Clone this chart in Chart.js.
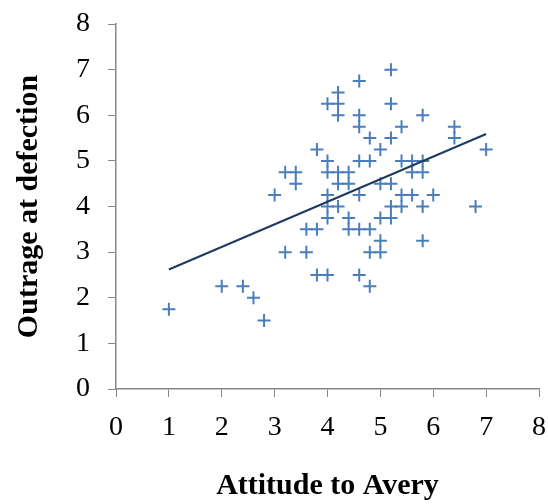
<!DOCTYPE html>
<html>
<head>
<meta charset="utf-8">
<script src="https://cdn.jsdelivr.net/npm/chart.js@4.4.1/dist/chart.umd.min.js"></script>
<style>
  html, body { margin: 0; padding: 0; background: #fff; }
  #wrap { width: 548px; height: 504px; }
</style>
</head>
<body>
<div id="wrap"><canvas id="scatterChart"></canvas></div>
<script>
// attitude to Avery (x) and outrage at defection (y), one entry per respondent
const attitude = [
  1.0, 2.0, 2.4, 2.6, 2.8, 3.0, 3.2, 3.2, 3.4, 3.4,
  3.6, 3.6, 3.8, 3.8, 3.8, 4.0, 4.0, 4.0, 4.0, 4.0,
  4.0, 4.0, 4.2, 4.2, 4.2, 4.2, 4.2, 4.2, 4.4, 4.4,
  4.4, 4.4, 4.6, 4.6, 4.6, 4.6, 4.6, 4.6, 4.6, 4.8,
  4.8, 4.8, 4.8, 4.8, 5.0, 5.0, 5.0, 5.0, 5.0, 5.2,
  5.2, 5.2, 5.2, 5.2, 5.2, 5.4, 5.4, 5.4, 5.4, 5.6,
  5.6, 5.6, 5.8, 5.8, 5.8, 5.8, 5.8, 6.0, 6.4, 6.4,
  6.8, 7.0
];
const outrage = [
  1.75, 2.25, 2.25, 2.0, 1.5, 4.25, 3.0, 4.75, 4.75, 4.5,
  3.5, 3.0, 5.25, 3.5, 2.5, 6.25, 5.0, 4.75, 4.25, 4.0,
  3.75, 2.5, 6.5, 6.25, 6.0, 4.75, 4.5, 4.0, 4.75, 4.5,
  3.75, 3.5, 6.75, 6.0, 5.75, 5.0, 4.25, 3.5, 2.5, 5.5,
  5.0, 3.5, 3.0, 2.25, 5.25, 4.5, 3.75, 3.25, 3.0, 7.0,
  6.25, 5.5, 4.5, 4.0, 3.75, 5.75, 5.0, 4.25, 4.0, 5.0,
  4.75, 4.25, 6.0, 5.0, 4.75, 4.0, 3.25, 4.25, 5.75, 5.5,
  4.0, 5.25
];

// linear trend line end points
const trendX = [1, 7];
const trendY = [2.62, 5.59];

const xTicks = [0, 1, 2, 3, 4, 5, 6, 7, 8];
const yTicks = [0, 1, 2, 3, 4, 5, 6, 7, 8];

const axisGray = "#868686";
const serif = "'Liberation Serif', 'Times New Roman', serif";

// drop the extra room Chart.js reserves for overhanging tick labels
function clearScalePadding(axis) {
  axis.paddingTop = 0;
  axis.paddingBottom = 0;
  axis.paddingLeft = 0;
  axis.paddingRight = 0;
}

const ctx = document.getElementById("scatterChart").getContext("2d");

new Chart(ctx, {
  type: "scatter",
  data: {
    datasets: [
      {
        label: "Outrage",
        data: attitude.map((x, i) => ({ x: x, y: outrage[i] })),
        pointStyle: "cross",
        pointRadius: 6.5,
        pointBorderWidth: 2,
        borderColor: "#4a7ebb",
        backgroundColor: "#4a7ebb",
        order: 2,
      },
      {
        label: "Linear trend",
        data: trendX.map((x, i) => ({ x: x, y: trendY[i] })),
        showLine: true,
        borderColor: "#1f3a60",
        borderWidth: 2,
        pointRadius: 0,
        order: 1,
      },
    ],
  },
  options: {
    responsive: true,
    maintainAspectRatio: false,
    animation: false,
    layout: { padding: { left: 0, right: 9, top: 24, bottom: 0 } },
    plugins: { legend: { display: false }, tooltip: { enabled: false } },
    scales: {
      x: {
        type: "linear",
        min: xTicks[0],
        max: xTicks[xTicks.length - 1],
        afterBuildTicks: (axis) => {
          axis.ticks = xTicks.map((v) => ({ value: v }));
        },
        afterFit: (axis) => {
          axis.height = 115;
          clearScalePadding(axis);
        },
        grid: {
          display: true,
          drawOnChartArea: false,
          drawTicks: true,
          tickLength: 8,
          color: axisGray,
        },
        border: { display: true, color: axisGray, width: 1.5 },
        ticks: {
          padding: 14,
          color: "#000",
          font: { family: serif, size: 28 },
        },
        title: {
          display: true,
          text: "Attitude to Avery",
          color: "#000",
          padding: { top: 0, bottom: 0 },
          font: { family: serif, size: 30, weight: "bold" },
        },
      },
      y: {
        type: "linear",
        min: yTicks[0],
        max: yTicks[yTicks.length - 1],
        afterBuildTicks: (axis) => {
          axis.ticks = yTicks.map((v) => ({ value: v }));
        },
        afterFit: (axis) => {
          axis.width = 116;
          clearScalePadding(axis);
        },
        grid: {
          display: true,
          drawOnChartArea: false,
          drawTicks: true,
          tickLength: 8,
          color: axisGray,
        },
        border: { display: true, color: axisGray, width: 1.5 },
        ticks: {
          padding: 18,
          color: "#000",
          font: { family: serif, size: 28 },
        },
        title: {
          display: true,
          text: "Outrage at defection",
          color: "#000",
          padding: { top: 11, bottom: 0 },
          font: { family: serif, size: 30, weight: "bold" },
        },
      },
    },
  },
});
</script>
</body>
</html>
